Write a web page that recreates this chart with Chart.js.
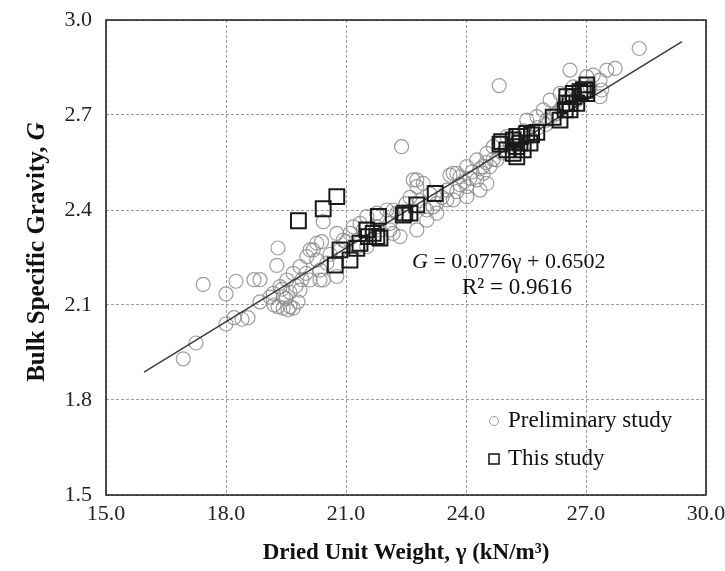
<!DOCTYPE html>
<html>
<head>
<meta charset="utf-8">
<script src="https://cdn.jsdelivr.net/npm/chart.js@4.4.0/dist/chart.umd.min.js"></script>
<style>
  html, body { margin: 0; padding: 0; background: #fff; }
  canvas { display: block; }
</style>
</head>
<body>
<canvas id="chart" width="725" height="571"></canvas>
<script>
// Preliminary study (circles)
const prelimX = [16.93, 17.25, 17.43, 18.0, 18.0, 18.2, 18.25, 18.4, 18.55, 18.7,
  18.85, 18.85, 19.1, 19.18, 19.2, 19.27, 19.3, 19.3, 19.35, 19.4,
  19.43, 19.43, 19.5, 19.52, 19.55, 19.6, 19.6, 19.68, 19.68, 19.75,
  19.8, 19.85, 19.85, 19.9, 20.0, 20.02, 20.1, 20.1, 20.18, 20.27,
  20.27, 20.35, 20.35, 20.39, 20.43, 20.43, 20.52, 20.6, 20.77, 20.77,
  20.85, 20.93, 21.0, 21.1, 21.18, 21.27, 21.35, 21.43, 21.52, 21.52,
  21.77, 21.77, 21.85, 22.02, 22.1, 22.1, 22.18, 22.18, 22.27, 22.35,
  22.39, 22.5, 22.6, 22.68, 22.77, 22.77, 22.77, 22.85, 22.93, 23.02,
  23.02, 23.1, 23.18, 23.27, 23.27, 23.4, 23.52, 23.52, 23.6, 23.68,
  23.68, 23.77, 23.77, 23.85, 23.85, 23.95, 24.02, 24.02, 24.02, 24.1,
  24.15, 24.27, 24.27, 24.35, 24.35, 24.43, 24.43, 24.5, 24.52, 24.52,
  24.6, 24.68, 24.68, 24.77, 24.83, 24.85, 24.9, 25.02, 25.1, 25.3,
  25.45, 25.52, 25.6, 25.77, 25.8, 25.93, 26.0, 26.02, 26.1, 26.2,
  26.27, 26.35, 26.4, 26.6, 26.68, 26.8, 27.02, 27.1, 27.18, 27.35,
  27.39, 27.35, 27.52, 27.73, 28.33];
const prelimY = [1.93, 1.98, 2.165, 2.04, 2.135, 2.06, 2.175, 2.055, 2.06, 2.18,
  2.11, 2.18, 2.125, 2.137, 2.10, 2.225, 2.28, 2.095, 2.158, 2.15,
  2.09, 2.126, 2.12, 2.179, 2.085, 2.095, 2.14, 2.09, 2.20, 2.16,
  2.11, 2.147, 2.221, 2.18, 2.20, 2.253, 2.179, 2.274, 2.274, 2.242,
  2.295, 2.179, 2.21, 2.30, 2.179, 2.363, 2.232, 2.26, 2.19, 2.326,
  2.274, 2.305, 2.30, 2.326, 2.347, 2.284, 2.358, 2.337, 2.284, 2.379,
  2.39, 2.347, 2.337, 2.40, 2.337, 2.358, 2.40, 2.326, 2.39, 2.316,
  2.60, 2.42, 2.44, 2.495, 2.474, 2.337, 2.495, 2.43, 2.484, 2.40,
  2.368, 2.45, 2.41, 2.39, 2.421, 2.44, 2.432, 2.463, 2.51, 2.432,
  2.516, 2.458, 2.516, 2.48, 2.505, 2.49, 2.442, 2.474, 2.537, 2.50,
  2.52, 2.495, 2.558, 2.463, 2.53, 2.516, 2.537, 2.55, 2.484, 2.579,
  2.537, 2.56, 2.60, 2.558, 2.793, 2.61, 2.58, 2.632, 2.60, 2.62,
  2.65, 2.684, 2.63, 2.695, 2.66, 2.716, 2.67, 2.684, 2.747, 2.70,
  2.705, 2.768, 2.72, 2.842, 2.789, 2.75, 2.821, 2.789, 2.826, 2.81,
  2.779, 2.758, 2.842, 2.847, 2.91];

// This study (squares)
const thisX = [19.81, 20.43, 20.77, 20.73, 20.85, 21.1, 21.27, 21.35, 21.52, 21.56,
  21.68, 21.77, 21.81, 21.85, 22.43, 22.47, 22.6, 22.77, 23.23, 24.85,
  24.89, 25.02, 25.18, 25.18, 25.27, 25.27, 25.27, 25.35, 25.35, 25.43,
  25.52, 25.6, 25.64, 25.77, 26.18, 26.35, 26.48, 26.52, 26.52, 26.6,
  26.6, 26.68, 26.68, 26.77, 26.85, 26.93, 26.98, 27.02, 27.02];
const thisY = [2.366, 2.404, 2.442, 2.226, 2.274, 2.242, 2.279, 2.295, 2.337, 2.316,
  2.326, 2.316, 2.38, 2.311, 2.384, 2.39, 2.39, 2.416, 2.452, 2.608,
  2.616, 2.59, 2.579, 2.621, 2.568, 2.60, 2.632, 2.611, 2.632, 2.59,
  2.642, 2.611, 2.637, 2.645, 2.693, 2.684, 2.716, 2.737, 2.758, 2.737,
  2.716, 2.758, 2.768, 2.737, 2.774, 2.779, 2.779, 2.768, 2.795];

// linear fit shown on the chart
const slope = 0.0776;
const intercept = 0.6502;
const trendX = [15.95, 29.4];

const xTicks = [15, 18, 21, 24, 27, 30];
const yTicks = [1.5, 1.8, 2.1, 2.4, 2.7, 3.0];

const legendLabels = ['Preliminary study', 'This study'];
const eqLine1 = ' = 0.0776γ + 0.6502';
const eqLine2 = 'R² = 0.9616';

const serif = "'Liberation Serif', 'Times New Roman', serif";

const toPoints = (xs, ys) => xs.map((x, i) => ({ x: x, y: ys[i] }));

const extras = {
  id: 'extras',
  afterDatasetsDraw(chart) {
    const { ctx, chartArea: a } = chart;
    ctx.save();
    ctx.strokeStyle = '#1a1a1a';
    ctx.lineWidth = 1.5;
    ctx.strokeRect(a.left, a.top, a.right - a.left, a.bottom - a.top);
    ctx.restore();
  },
  afterDraw(chart) {
    const { ctx } = chart;
    ctx.save();
    ctx.fillStyle = '#111';
    ctx.textBaseline = 'middle';

    // legend
    ctx.strokeStyle = '#9a9a9a';
    ctx.lineWidth = 1;
    ctx.beginPath();
    ctx.arc(494, 421, 4.5, 0, Math.PI * 2);
    ctx.stroke();
    ctx.strokeStyle = '#111';
    ctx.lineWidth = 1.5;
    ctx.strokeRect(489, 454, 10, 10);
    ctx.font = '23px ' + serif;
    ctx.textAlign = 'left';
    ctx.fillText(legendLabels[0], 508, 421);
    ctx.fillText(legendLabels[1], 508, 459);

    // equation
    ctx.font = 'italic 22px ' + serif;
    ctx.fillText('G', 412, 262);
    const gw = ctx.measureText('G').width;
    ctx.font = '22px ' + serif;
    ctx.fillText(eqLine1, 412 + gw, 262);
    ctx.font = '23px ' + serif;
    ctx.fillText(eqLine2, 462, 288);

    // y axis title
    const part1 = 'Bulk Specific Gravity, ';
    ctx.font = 'bold 25px ' + serif;
    const w1 = ctx.measureText(part1).width;
    ctx.font = 'bold italic 25px ' + serif;
    const w2 = ctx.measureText('G').width;
    ctx.translate(38, 252);
    ctx.rotate(-Math.PI / 2);
    ctx.textAlign = 'left';
    ctx.font = 'bold 25px ' + serif;
    ctx.fillText(part1, -(w1 + w2) / 2, 0);
    ctx.font = 'bold italic 25px ' + serif;
    ctx.fillText('G', -(w1 + w2) / 2 + w1, 0);
    ctx.restore();
  }
};

new Chart(document.getElementById('chart'), {
  type: 'scatter',
  data: {
    datasets: [
      {
        label: legendLabels[0],
        data: toPoints(prelimX, prelimY),
        pointStyle: 'circle',
        pointRadius: 7,
        backgroundColor: 'rgba(0,0,0,0)',
        borderColor: 'rgba(140,140,140,0.85)',
        borderWidth: 1.2,
        order: 3
      },
      {
        type: 'line',
        label: 'fit',
        data: trendX.map(x => ({ x: x, y: slope * x + intercept })),
        borderColor: '#3a3a3a',
        borderWidth: 1.5,
        pointRadius: 0,
        fill: false,
        order: 2
      },
      {
        label: legendLabels[1],
        data: toPoints(thisX, thisY),
        pointStyle: 'rect',
        pointRadius: 10.5,
        backgroundColor: 'rgba(0,0,0,0)',
        borderColor: '#1a1a1a',
        borderWidth: 2,
        order: 1
      }
    ]
  },
  options: {
    responsive: false,
    animation: false,
    devicePixelRatio: 1,
    layout: { padding: { top: 20, right: 19, left: 0, bottom: 0 } },
    plugins: { legend: { display: false }, tooltip: { enabled: false } },
    scales: {
      x: {
        type: 'linear',
        min: 15,
        max: 30,
        afterBuildTicks: s => { s.ticks = xTicks.map(v => ({ value: v })); },
        afterFit: s => { s.height = 76; s.paddingLeft = 0; s.paddingRight = 0; },
        ticks: {
          callback: v => v.toFixed(1),
          color: '#222',
          font: { family: serif, size: 22 },
          padding: 6,
          maxRotation: 0
        },
        grid: { color: '#9c9c9c', lineWidth: 1, drawTicks: false },
        border: { display: false, dash: [3, 2] },
        title: {
          display: true,
          text: 'Dried Unit Weight, γ (kN/m³)',
          color: '#111',
          font: { family: serif, size: 23, weight: 'bold' },
          padding: { top: 0, bottom: 4 }
        }
      },
      y: {
        type: 'linear',
        min: 1.5,
        max: 3.0,
        afterBuildTicks: s => { s.ticks = yTicks.map(v => ({ value: v })); },
        afterFit: s => { s.width = 106; s.paddingTop = 0; s.paddingBottom = 0; },
        ticks: {
          callback: v => v.toFixed(1),
          color: '#222',
          font: { family: serif, size: 22 },
          padding: 14
        },
        grid: { color: '#9c9c9c', lineWidth: 1, drawTicks: false },
        border: { display: false, dash: [3, 2] },
        title: { display: false }
      }
    }
  },
  plugins: [extras]
});
</script>
</body>
</html>
